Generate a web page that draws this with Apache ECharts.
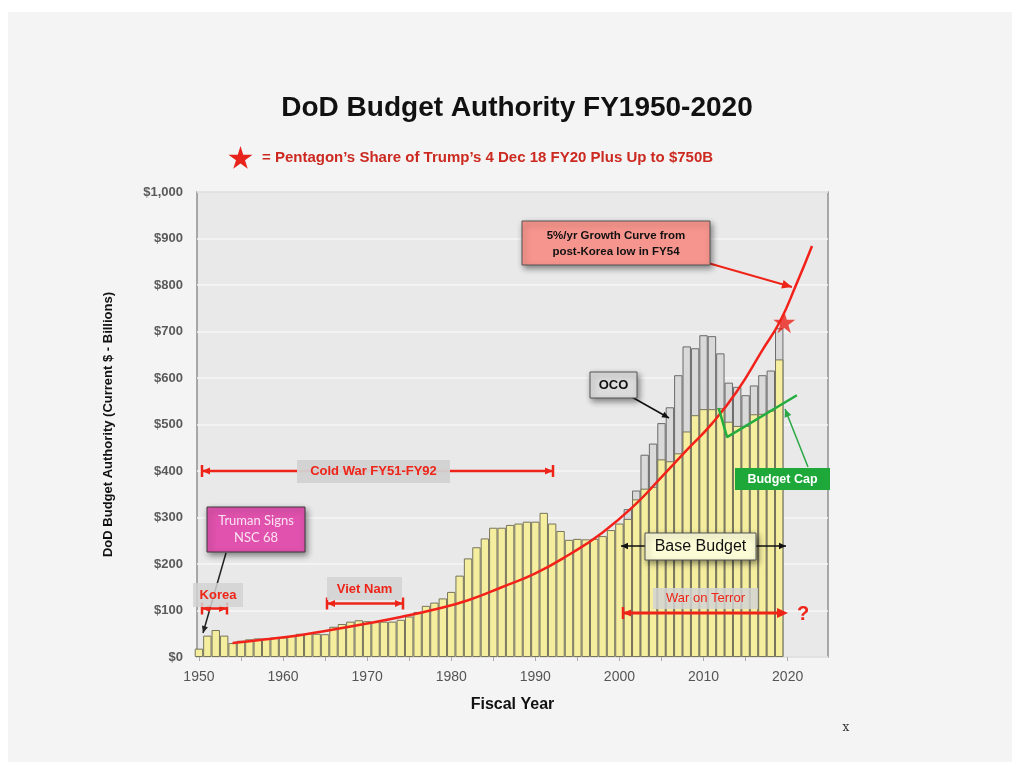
<!DOCTYPE html>
<html>
<head>
<meta charset="utf-8">
<script src="https://cdn.jsdelivr.net/npm/echarts@6/dist/echarts.min.js"></script>
<style>
  html, body { margin: 0; background: #ffffff; }
  #panel { position: absolute; left: 8px; top: 12px; width: 1004px; height: 750px; background: #f3f4f3; }
  #chart { position: absolute; left: 0; top: 0; width: 1022px; height: 771px; }
</style>
</head>
<body>
<div id="panel"></div>
<div id="chart"></div>
<script>
// fiscal years shown as bars
const years = [
  1950, 1951, 1952, 1953, 1954, 1955, 1956, 1957, 1958, 1959,
  1960, 1961, 1962, 1963, 1964, 1965, 1966, 1967, 1968, 1969,
  1970, 1971, 1972, 1973, 1974, 1975, 1976, 1977, 1978, 1979,
  1980, 1981, 1982, 1983, 1984, 1985, 1986, 1987, 1988, 1989,
  1990, 1991, 1992, 1993, 1994, 1995, 1996, 1997, 1998, 1999,
  2000, 2001, 2002, 2003, 2004, 2005, 2006, 2007, 2008, 2009,
  2010, 2011, 2012, 2013, 2014, 2015, 2016, 2017, 2018, 2019
];
// base budget ($B)
const baseValues = [
  18, 46, 58, 46, 30, 35, 38, 40, 40, 42,
  42, 45, 50, 51, 50, 49, 65, 71, 76, 79,
  77, 75, 76, 76, 80, 87, 97, 110, 117, 126,
  140, 175, 212, 236, 255, 278, 278, 284, 287, 291,
  291, 310, 287, 271, 252, 254, 253, 254, 260, 273,
  287, 297, 339, 362, 366, 425, 421, 438, 485, 520,
  533, 533, 535, 506, 497, 497, 522, 523, 530, 640
];
// OCO on top of base ($B)
const ocoValues = [
  0, 0, 0, 0, 0, 0, 0, 0, 0, 0,
  0, 0, 0, 0, 0, 0, 0, 0, 0, 0,
  0, 0, 0, 0, 0, 0, 0, 0, 0, 0,
  0, 0, 0, 0, 0, 0, 0, 0, 0, 0,
  0, 0, 0, 0, 0, 0, 0, 0, 0, 0,
  0, 21, 19, 73, 93, 78, 116, 168, 183, 144,
  159, 157, 118, 84, 84, 66, 62, 83, 86, 67
];
// 5%/yr growth curve as drawn
const growthYears = [1954, 1958, 1962, 1966, 1970, 1974, 1978, 1982, 1986, 1990, 1994, 1998, 2002, 2005, 2008, 2011, 2014, 2017, 2019.1, 2021, 2022.9];
const growthValues = [30, 38, 47, 59, 72, 86, 102, 122, 150, 180, 220, 268, 330, 387, 445, 502, 572, 660, 722, 800, 884];
// budget cap line
const capYears = [2011.8, 2012.8, 2021.1];
const capValues = [535, 473, 563];
// star: FY20 plus-up
const starYear = [2019.6];
const starValue = [720];

const yTicks = [0, 100, 200, 300, 400, 500, 600, 700, 800, 900, 1000];
const xLabelYears = [1950, 1960, 1970, 1980, 1990, 2000, 2010, 2020];
const xTickYears = [1950, 1955, 1960, 1965, 1970, 1975, 1980, 1985, 1990, 1995, 2000, 2005, 2010, 2015, 2020];

const FONT = '"Liberation Sans", Arial, Helvetica, sans-serif';
const RED = '#ee2418';
const STAR = 'path://M50,0 L61,35 L98,35 L68,57 L79,91 L50,70 L21,91 L32,57 L2,35 L39,35 Z';
const starPts = [[50, 0], [61, 35], [98, 35], [68, 57], [79, 91], [50, 70], [21, 91], [32, 57], [2, 35], [39, 35]];

const chart = echarts.init(document.getElementById('chart'));

// annotation helpers (pixel space)
const els = [];
function txt(x, y, text, font, fill, align) {
  els.push({ type: 'text', x: x, y: y, z: 120,
    style: { text: text, font: font, fill: fill, align: align || 'center', verticalAlign: 'middle' } });
}
function box(x, y, w, h, fill, stroke, shadow) {
  els.push({ type: 'rect', z: 110, shape: { x: x, y: y, width: w, height: h },
    style: { fill: fill, stroke: stroke || null, lineWidth: 1,
      shadowBlur: shadow ? 6 : 0, shadowColor: 'rgba(0,0,0,0.45)', shadowOffsetX: shadow ? 2 : 0, shadowOffsetY: shadow ? 3 : 0 } });
}
function line(x1, y1, x2, y2, color, width) {
  els.push({ type: 'line', z: 105, shape: { x1: x1, y1: y1, x2: x2, y2: y2 }, style: { stroke: color, lineWidth: width } });
}
function head(x, y, dx, dy, size, color) {
  const l = Math.hypot(dx, dy), ux = dx / l, uy = dy / l;
  const bx = x - ux * size, by = y - uy * size, w = size * 0.45;
  els.push({ type: 'polygon', z: 106, shape: { points: [[x, y], [bx - uy * w, by + ux * w], [bx + uy * w, by - ux * w]] }, style: { fill: color } });
}
function arrow(x1, y1, x2, y2, color, width, size) {
  line(x1, y1, x2, y2, color, width);
  head(x2, y2, x2 - x1, y2 - y1, size, color);
}
function cap(x, y, dir, color) {
  line(x, y - 6, x, y + 6, color, 2.5);
  head(x, y, dir, 0, 8, color);
}

// Truman box
box(207, 507, 98, 45, '#e052ad', '#3a3a3a', true);
txt(256, 521, 'Truman Signs', '13px Lato, "Open Sans", sans-serif', '#fbe3f3');
txt(256, 538, 'NSC 68', '13px Lato, "Open Sans", sans-serif', '#fbe3f3');
arrow(226, 553, 203, 633, '#222', 1.5, 7);

// Korea
box(193, 583, 50, 24, 'rgba(210,210,210,0.85)');
txt(218, 595, 'Korea', 'bold 13px ' + FONT, RED);
line(202, 608.5, 227, 608.5, RED, 2.5);
cap(202, 608.5, -1, RED); cap(227, 608.5, 1, RED);

// Viet Nam
box(327, 577, 75, 23, 'rgba(210,210,210,0.85)');
txt(364.5, 589, 'Viet Nam', 'bold 13px ' + FONT, RED);
line(327, 603.5, 403, 603.5, RED, 2.5);
cap(327, 603.5, -1, RED); cap(403, 603.5, 1, RED);

// Cold War
line(202, 471, 553, 471, RED, 2.5);
cap(202, 471, -1, RED); cap(553, 471, 1, RED);
box(297, 460, 153, 23, 'rgba(210,210,210,0.95)');
txt(373.5, 471.5, 'Cold War FY51-FY92', 'bold 13px ' + FONT, RED);

// War on Terror
box(653, 588, 105, 21, 'rgba(210,210,210,0.85)');
txt(705.5, 598.5, 'War on Terror', '13px ' + FONT, RED);
line(623, 613, 780, 613, RED, 3);
cap(623, 613, -1, RED);
head(788, 613, 1, 0, 11, RED);
txt(803, 614, '?', 'bold 20px ' + FONT, RED);

// Base Budget
arrow(645, 546, 621, 546, '#111', 1.5, 7);
arrow(756, 546, 786, 546, '#111', 1.5, 7);
box(645, 533, 111, 27, '#fcfcd6', '#555', true);
txt(700.5, 547, 'Base Budget', '16px ' + FONT, '#111');

// OCO
arrow(630, 396, 669, 418, '#111', 1.5, 7);
box(590, 372, 47, 26, '#dcdcdc', '#555', true);
txt(613.5, 385.5, 'OCO', 'bold 13px ' + FONT, '#111');

// growth curve note
arrow(708, 263, 792, 287, RED, 2, 10);
box(522, 221, 188, 44, '#f6958d', '#555', true);
txt(616, 236, '5%/yr Growth Curve from', 'bold 11.5px ' + FONT, '#111');
txt(616, 252, 'post-Korea low in FY54', 'bold 11.5px ' + FONT, '#111');

// Budget cap note
arrow(808, 467, 785, 409, '#2aa845', 1.5, 8);
box(735, 468, 95, 22, '#1ea83a');
txt(782.5, 479.5, 'Budget Cap', 'bold 12.5px ' + FONT, '#ffffff');

// titles
txt(517, 108, 'DoD Budget Authority FY1950-2020', 'bold 28px ' + FONT, '#111');
els.push({ type: 'polygon', z: 120,
  shape: { points: starPts.map(p => [228 + p[0] * 0.25, 146 + p[1] * 0.25]) },
  style: { fill: '#e8231b' } });
txt(262, 158, '= Pentagon\u2019s Share of Trump\u2019s 4 Dec 18 FY20 Plus Up to $750B', 'bold 15px ' + FONT, '#cc2a21', 'left');
txt(846, 728, 'x', '12px "DejaVu Serif", serif', '#333');

const option = {
  backgroundColor: 'transparent',
  animation: false,
  grid: {
    left: 197, right: 194, top: 192, bottom: 114,
    show: true, backgroundColor: '#e9e9e9', borderColor: '#8e8e8e', borderWidth: 1.5
  },
  xAxis: {
    type: 'value', min: 1949.77, max: 2024.8,
    name: 'Fiscal Year', nameLocation: 'middle', nameGap: 40,
    nameTextStyle: { fontFamily: FONT, fontWeight: 'bold', fontSize: 16, color: '#111' },
    axisLine: { show: false },
    axisTick: { show: true, customValues: xTickYears, length: 4, lineStyle: { color: '#aaa' } },
    axisLabel: { customValues: xLabelYears, formatter: v => String(v), margin: 13,
      fontFamily: FONT, fontSize: 14, color: '#555' },
    splitLine: { show: false }
  },
  yAxis: {
    type: 'value', min: yTicks[0], max: yTicks[yTicks.length - 1], interval: 100,
    name: 'DoD Budget Authority (Current $ - Billions)', nameLocation: 'middle', nameGap: 82,
    nameTextStyle: { fontFamily: FONT, fontWeight: 'bold', fontSize: 13, color: '#111' },
    axisLine: { show: false }, axisTick: { show: false },
    axisLabel: { formatter: v => '$' + v.toLocaleString('en-US'), margin: 14,
      fontFamily: FONT, fontWeight: 'bold', fontSize: 13, color: '#5a5a5a' },
    splitLine: { lineStyle: { color: '#f6f6f6', width: 1.5 } }
  },
  series: [
    {
      name: 'OCO', type: 'bar', barWidth: 8.4, barGap: '-100%', clip: true,
      data: years.map((y, i) => [y, baseValues[i] + ocoValues[i]]).filter((d, i) => ocoValues[i] > 0),
      itemStyle: { color: '#d9d9d9', borderColor: '#6a6a6a', borderWidth: 1 }
    },
    {
      name: 'Base', type: 'bar', barWidth: 8.4, barGap: '-100%', clip: true,
      data: years.map((y, i) => [y, baseValues[i]]),
      itemStyle: { color: '#f5ee9f', borderColor: '#77745c', borderWidth: 1 }
    },
    {
      name: 'Growth', type: 'line', smooth: true, symbol: 'none', z: 5,
      data: growthYears.map((y, i) => [y, growthValues[i]]),
      lineStyle: { color: '#f2221a', width: 2.5 }
    },
    {
      name: 'Cap', type: 'line', symbol: 'none', z: 5,
      data: capYears.map((y, i) => [y, capValues[i]]),
      lineStyle: { color: '#23ad3f', width: 2.5 }
    },
    {
      name: 'FY20', type: 'scatter', symbol: STAR, symbolSize: 22, z: 6,
      data: starYear.map((y, i) => [y, starValue[i]]),
      itemStyle: { color: '#ea2219' }
    }
  ],
  graphic: { elements: els }
};

chart.setOption(option);
</script>
</body>
</html>
